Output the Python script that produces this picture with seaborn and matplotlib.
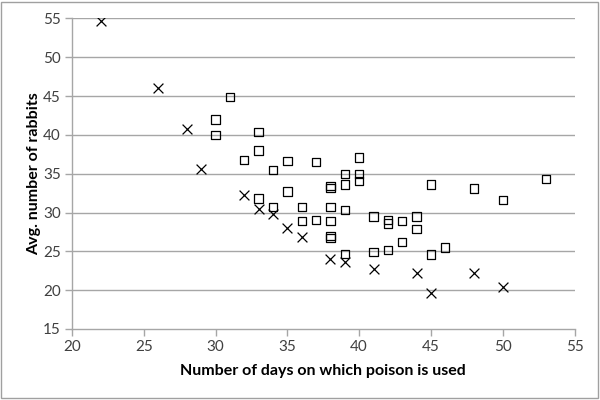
import pandas as pd
import matplotlib.pyplot as plt
import seaborn as sns
from matplotlib.patches import Rectangle

# Crosses
cross_days = [22, 26, 28, 29, 32, 33, 34, 35, 36, 38, 39, 41, 44, 45, 48, 50]
cross_rabbits = [54.7, 46.0, 40.7, 35.6, 32.3, 30.5, 29.8, 28.0, 26.8, 24.0, 23.6, 22.7, 22.2, 19.7, 22.2, 20.4]

# Squares
square_days = [30, 30, 31, 32, 33, 33, 33, 34, 34, 35, 35, 36, 36, 37, 37,
               38, 38, 38, 38, 38, 38, 39, 39, 39, 39, 40, 40, 40, 41, 41,
               42, 42, 42, 43, 43, 44, 44, 45, 45, 46, 48, 50, 53]
square_rabbits = [42.0, 40.0, 44.9, 36.8, 40.4, 38.0, 31.8, 35.5, 30.7, 36.6, 32.7, 30.7, 28.9, 36.5, 29.0,
                  33.4, 33.2, 30.7, 28.9, 27.0, 26.7, 35.0, 33.6, 30.3, 24.7, 37.1, 35.0, 34.1, 29.5, 24.9,
                  29.0, 28.6, 25.2, 28.9, 26.2, 29.5, 27.9, 33.6, 24.6, 25.5, 33.1, 31.6, 34.3]

x_ticks = [20, 25, 30, 35, 40, 45, 50, 55]
y_ticks = [15, 20, 25, 30, 35, 40, 45, 50, 55]

sns.set_theme(style="white")
plt.rcParams['font.family'] = ['Lato', 'DejaVu Sans']

df_cross = pd.DataFrame({'days': cross_days, 'rabbits': cross_rabbits})
df_square = pd.DataFrame({'days': square_days, 'rabbits': square_rabbits})

fig = plt.figure(figsize=(6, 4), dpi=100)
ax = fig.add_axes([0.12, 0.1775, 0.8375, 0.7765])

grid_col = '#a6a6a6'
for y in y_ticks[1:]:
    ax.axhline(y, color=grid_col, lw=1, zorder=0)

sns.scatterplot(data=df_cross, x='days', y='rabbits', marker='x', s=50,
                color='black', linewidth=0.9, ax=ax, zorder=3)
sns.scatterplot(data=df_square, x='days', y='rabbits', marker='s', s=36,
                facecolor='none', edgecolor='black', linewidth=0.9, ax=ax, zorder=3)

ax.set_xlim(20, 55)
ax.set_ylim(15, 55)
ax.set_xticks(x_ticks)
ax.set_yticks(y_ticks)
ax.tick_params(axis='both', direction='out', length=5, width=1, color=grid_col,
               labelsize=11, labelcolor='#404040', pad=3, left=True, bottom=True)
for side in ['top', 'right']:
    ax.spines[side].set_visible(False)
for side in ['left', 'bottom']:
    ax.spines[side].set_color(grid_col)
    ax.spines[side].set_linewidth(1)

ax.set_xlabel('Number of days on which poison is used', fontsize=11.5, fontweight='bold',
              color='black', labelpad=7)
ax.set_ylabel('Avg. number of rabbits', fontsize=11.5, fontweight='bold',
              color='black', labelpad=1.5)

# outer chart border
fig.patches.append(Rectangle((0.002, 0.004), 0.994, 0.992, transform=fig.transFigure,
                             fill=False, edgecolor='#a0a0a0', lw=1))

fig.savefig('out.png', dpi=100)
